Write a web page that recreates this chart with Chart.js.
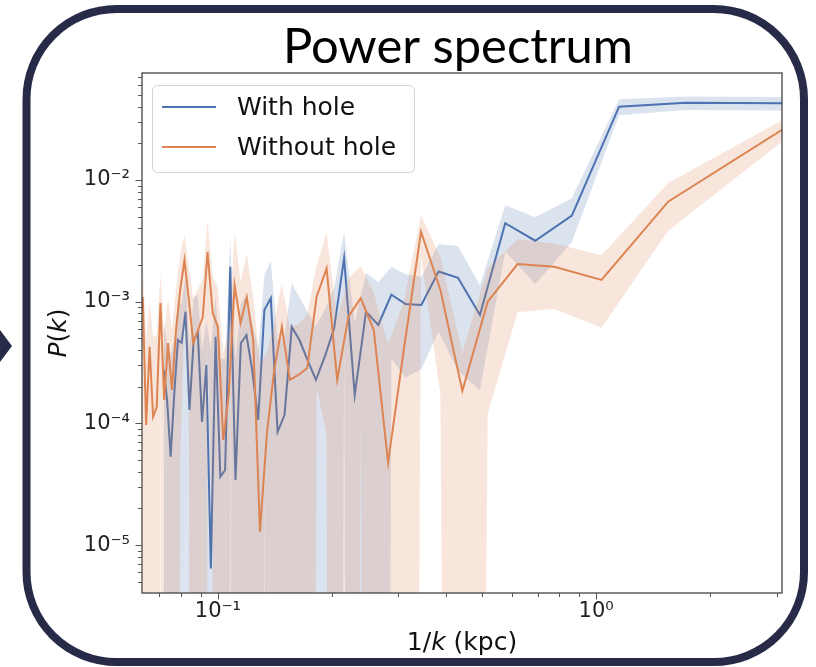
<!DOCTYPE html>
<html><head><meta charset="utf-8">
<script src="https://cdn.jsdelivr.net/npm/chart.js@4.4.1/dist/chart.umd.min.js"></script>
<style>html,body{margin:0;padding:0;background:#fff;overflow:hidden}canvas{display:block}</style>
</head><body>
<canvas id="c" width="816" height="667"></canvas>
<script>
// ---------- data ----------
const chartTitle = 'Power spectrum';
const seriesNames = ['With hole', 'Without hole'];
const xTickValues = [0.1, 1];
const xTickLabels = ['10⁻¹', '10⁰'];
const yTickValues = [1e-5, 1e-4, 1e-3, 1e-2];
const yTickLabels = ['10⁻⁵', '10⁻⁴', '10⁻³', '10⁻²'];

// 1/k (kpc)
const withHoleX = [3.45,1.725,1.15,0.8625,0.69,0.575,0.4929,0.4313,0.3833,0.345,0.3136,0.2875,0.2654,0.2464,0.23,0.2156,0.2029,0.1917,0.1816,0.1725,0.1643,0.1568,0.15,0.1438,0.138,0.1327,0.1278,0.1232,0.119,0.115,0.1113,0.1078,0.1045,0.1015,0.0986,0.0958,0.0932,0.0908,0.0885,0.0863,0.0841,0.0821,0.0802,0.0784,0.0767,0.075,0.0734,0.0719];
// P(k)
const withHoleY = [0.0426,0.0431,0.0400,0.00509,0.00317,0.00441,0.000778,0.00157,0.00177,0.00094,0.000957,0.00114,0.000644,0.000828,0.000171,0.00228,0.000604,0.000353,0.000228,0.000332,0.000484,0.000619,0.000117,0.0000849,0.00107,0.000855,0.000107,0.000275,0.000532,0.000455,0.0000343,0.00194,0.0000414,0.0000365,0.000515,0.00000644,0.000302,0.000103,0.000553,0.000484,0.000129,0.000828,0.000458,0.000484,0.000178,0.0000532,0.000156,0.000275];
// spread of the shaded band
const withHoleErr = [0.0055,0.0055,0.006,0.002,0.00178,0.0018,0.00059,0.0013,0.0012,0.00066,0.00072,0.0008,0.0008,0.0009,0.0005,0.0015,0.0007,0.0005,0.0004,0.0005,0.0006,0.0008,0.0004,0.0004,0.0011,0.0008,0.0003,0.0004,0.0006,0.0005,0.0003,0.0014,0.0003,0.0003,0.0006,0.0004,0.0004,0.0003,0.0006,0.0006,0.0003,0.0008,0.0005,0.0005,0.0003,0.0003,0.0003,0.0004];

const withoutHoleX = [3.1,1.55,1.0333,0.775,0.62,0.5167,0.4429,0.3875,0.3444,0.31,0.2818,0.2583,0.2385,0.2214,0.2067,0.1938,0.1824,0.1722,0.1632,0.155,0.1476,0.1409,0.1348,0.1292,0.124,0.1192,0.1148,0.1107,0.1069,0.1033,0.1,0.0969,0.0939,0.0912,0.0886,0.0861,0.0838,0.0816,0.0795,0.0775,0.0756,0.0738,0.0721,0.0705,0.0689,0.0674,0.066,0.0646,0.0633];
const withoutHoleY = [0.0258,0.00663,0.00151,0.00194,0.00204,0.0010,0.000185,0.00125,0.00376,0.000401,0.0000477,0.000585,0.00107,0.000753,0.000228,0.00188,0.0011,0.000284,0.00025,0.000228,0.000624,0.000275,0.0000834,0.0000129,0.000484,0.00109,0.000668,0.00137,0.000178,0.0000731,0.000619,0.000807,0.00256,0.000748,0.000585,0.000458,0.00103,0.0022,0.00125,0.000585,0.000188,0.000458,0.000156,0.000975,0.000136,0.000113,0.000425,0.000097,0.00109];
const withoutHoleErr = [0.0052,0.0028,0.0009,0.00107,0.00122,0.00088,0.0002,0.00108,0.0014,0.0006,0.0004,0.0006,0.0009,0.0008,0.0005,0.0018,0.0009,0.0005,0.0004,0.0004,0.0008,0.0004,0.0003,0.0003,0.0006,0.0014,0.0008,0.0024,0.0004,0.0003,0.0007,0.0008,0.0021,0.0008,0.0007,0.0006,0.0009,0.0014,0.0012,0.0007,0.0004,0.0006,0.0004,0.0007,0.0004,0.0004,0.0006,0.0004,0.0011];

// ---------- styling ----------
const BLUE = '#4C72B0', ORANGE = '#DD8452';
const BLUE_BAND = 'rgba(76,114,176,0.2)', ORANGE_BAND = 'rgba(221,132,82,0.2)';
const NAVY = '#272b48';
const TICK_FONT = '"DejaVu Sans", sans-serif';

const pts = (xs, ys) => xs.map((x, i) => ({x: x, y: ys[i]}));
const upper = (xs, ys, es) => xs.map((x, i) => ({x: x, y: ys[i] + es[i]}));
// non-positive lower bounds are clipped far below the axis, like a log axis does
const lower = (xs, ys, es) => xs.map((x, i) => ({x: x, y: Math.max(ys[i] - es[i], 1e-30)}));

const lineDs = (label, data, color, order) => ({label, data, borderColor: color, borderWidth: 2, pointRadius: 0, tension: 0, fill: false, order});
const bandDs = (data, color, order, fillTarget) => ({data, borderColor: 'transparent', borderWidth: 0, pointRadius: 0, tension: 0,
  backgroundColor: color, fill: fillTarget, order});

const datasets = [
  lineDs(seriesNames[1], pts(withoutHoleX, withoutHoleY), ORANGE, 0),
  bandDs(upper(withoutHoleX, withoutHoleY, withoutHoleErr), ORANGE_BAND, 1, '+1'),
  bandDs(lower(withoutHoleX, withoutHoleY, withoutHoleErr), 'transparent', 1, false),
  lineDs(seriesNames[0], pts(withHoleX, withHoleY), BLUE, 2),
  bandDs(upper(withHoleX, withHoleY, withHoleErr), BLUE_BAND, 3, '+1'),
  bandDs(lower(withHoleX, withHoleY, withHoleErr), 'transparent', 3, false),
];

function roundRectPath(ctx, x, y, w, h, r) {
  ctx.beginPath();
  ctx.moveTo(x + r, y);
  ctx.lineTo(x + w - r, y); ctx.arcTo(x + w, y, x + w, y + r, r);
  ctx.lineTo(x + w, y + h - r); ctx.arcTo(x + w, y + h, x + w - r, y + h, r);
  ctx.lineTo(x + r, y + h); ctx.arcTo(x, y + h, x, y + h - r, r);
  ctx.lineTo(x, y + r); ctx.arcTo(x, y, x + r, y, r);
  ctx.closePath();
}

function drawParts(ctx, parts, size) {
  const fam = '"DejaVu Sans", sans-serif';
  let w = 0;
  parts.forEach(p => { ctx.font = (p.i ? 'italic ' : '') + size + 'px ' + fam; p.w = ctx.measureText(p.t).width; w += p.w; });
  let x = -w / 2;
  parts.forEach(p => { ctx.font = (p.i ? 'italic ' : '') + size + 'px ' + fam; ctx.fillText(p.t, x, 0); x += p.w; });
}

const decorations = {
  id: 'decorations',
  beforeDraw(chart) {
    const ctx = chart.ctx;
    ctx.save();
    ctx.fillStyle = '#fff';
    ctx.fillRect(0, 0, chart.width, chart.height);
    // frame
    ctx.strokeStyle = NAVY; ctx.lineWidth = 8;
    roundRectPath(ctx, 26.5, 9, 777.5, 653, 90);
    ctx.stroke();
    // side arrow
    ctx.fillStyle = NAVY;
    ctx.beginPath(); ctx.moveTo(0, 330); ctx.lineTo(12, 346); ctx.lineTo(0, 362); ctx.closePath(); ctx.fill();
    // title
    ctx.font = '100px Lato, "Open Sans", sans-serif';
    const tw = ctx.measureText(chartTitle).width;
    const size = 100 * 350 / tw;
    ctx.font = size.toFixed(1) + 'px Lato, "Open Sans", sans-serif';
    ctx.fillStyle = '#000'; ctx.textAlign = 'center'; ctx.textBaseline = 'alphabetic';
    ctx.fillText(chartTitle, 458, 63);
    ctx.restore();
  },
  afterDatasetsDraw(chart) {
    const ctx = chart.ctx, a = chart.chartArea;
    const xs = chart.scales.x, ys = chart.scales.y;
    ctx.save();
    ctx.strokeStyle = '#444'; ctx.lineWidth = 1.3;
    ctx.strokeRect(a.left, a.top, a.right - a.left, a.bottom - a.top);
    ctx.lineWidth = 1; ctx.strokeStyle = '#555';
    for (let d = -7; d <= 1; d++) {
      for (let m = 1; m <= 9; m++) {
        const v = m * Math.pow(10, d);
        const len = m === 1 ? 6.5 : 4;
        if (v >= ys.min && v <= ys.max) {
          const y = Math.round(ys.getPixelForValue(v)) + 0.5;
          ctx.beginPath(); ctx.moveTo(a.left - len, y); ctx.lineTo(a.left, y); ctx.stroke();
        }
        if (v >= xs.min && v <= xs.max) {
          const x = Math.round(xs.getPixelForValue(v)) + 0.5;
          ctx.beginPath(); ctx.moveTo(x, a.bottom); ctx.lineTo(x, a.bottom + len); ctx.stroke();
        }
      }
    }
    ctx.restore();
  },
  afterDraw(chart) {
    const ctx = chart.ctx, a = chart.chartArea;
    ctx.save();
    // legend
    roundRectPath(ctx, 152.5, 85.5, 262, 87, 5);
    ctx.fillStyle = 'rgba(255,255,255,0.85)'; ctx.fill();
    ctx.strokeStyle = '#d4d4d4'; ctx.lineWidth = 1; ctx.stroke();
    const rows = [[seriesNames[0], BLUE, 107], [seriesNames[1], ORANGE, 147]];
    ctx.font = '25px "DejaVu Sans", sans-serif'; ctx.textBaseline = 'middle'; ctx.textAlign = 'left';
    rows.forEach(r => {
      ctx.strokeStyle = r[1]; ctx.lineWidth = 2;
      ctx.beginPath(); ctx.moveTo(162, r[2]); ctx.lineTo(216, r[2]); ctx.stroke();
      ctx.fillStyle = '#111'; ctx.fillText(r[0], 237, r[2] + 1);
    });
    // axis labels
    ctx.fillStyle = '#111'; ctx.textAlign = 'left'; ctx.textBaseline = 'alphabetic';
    ctx.save();
    ctx.translate((a.left + a.right) / 2, 650);
    drawParts(ctx, [{t: '1/'}, {t: 'k', i: true}, {t: ' (kpc)'}], 25);
    ctx.restore();
    ctx.save();
    ctx.translate(66, (a.top + a.bottom) / 2);
    ctx.rotate(-Math.PI / 2);
    drawParts(ctx, [{t: 'P', i: true}, {t: '('}, {t: 'k', i: true}, {t: ')'}], 25);
    ctx.restore();
    ctx.restore();
  }
};

new Chart(document.getElementById('c'), {
  type: 'line',
  data: {datasets},
  options: {
    responsive: false, animation: false, devicePixelRatio: 1,
    parsing: true,
    layout: {padding: {left: 0, top: 73, right: 34, bottom: 0}},
    plugins: {legend: {display: false}, title: {display: false}, tooltip: {enabled: false},
      filler: {propagate: false}},
    scales: {
      x: {
        type: 'logarithmic', position: 'bottom', min: 0.063, max: 3.1,
        grid: {display: false, drawTicks: false}, border: {display: false},
        afterFit(s) { s.height = 74; },
        afterBuildTicks(s) { s.ticks = xTickValues.map(v => ({value: v})); },
        ticks: {autoSkip: false, maxRotation: 0, padding: 6, color: '#222',
          font: {family: TICK_FONT, size: 21},
          callback: (v, i) => xTickLabels[i]}
      },
      y: {
        type: 'logarithmic', position: 'left', min: 4.04e-6, max: 0.0757,
        grid: {display: false, drawTicks: false}, border: {display: false},
        afterFit(s) { s.width = 142; },
        afterBuildTicks(s) { s.ticks = yTickValues.map(v => ({value: v})); },
        ticks: {autoSkip: false, padding: 12, color: '#222',
          font: {family: TICK_FONT, size: 21},
          callback: (v, i) => yTickLabels[i]}
      }
    }
  },
  plugins: [decorations]
});
</script>
</body></html>
